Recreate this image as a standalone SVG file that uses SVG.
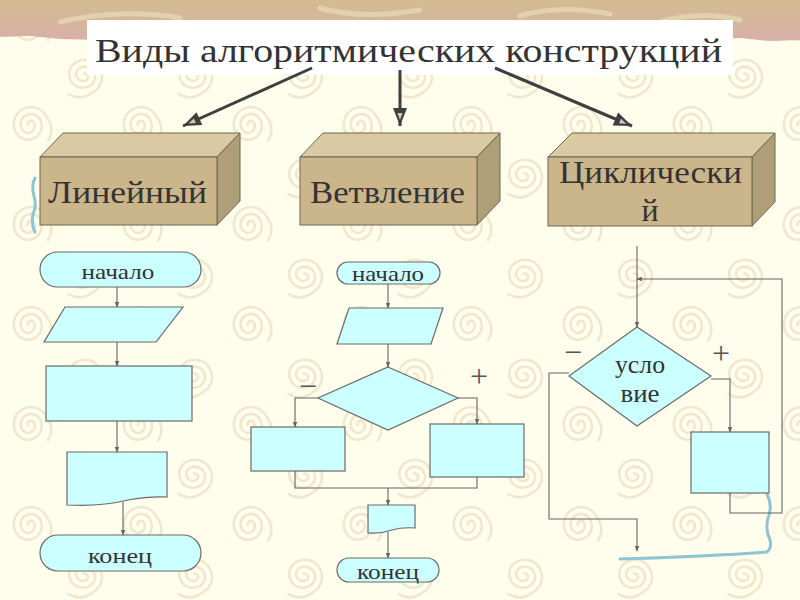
<svg xmlns="http://www.w3.org/2000/svg" width="800" height="600" viewBox="0 0 800 600">
<defs>
  <pattern id="swirls" x="0" y="0" width="110" height="100" patternUnits="userSpaceOnUse">
    <path d="M0 0A3 3 0 0 1 6 0A6 6 0 0 1 -6 0A9 9 0 0 1 12 0A12 12 0 0 1 -12 0A15 15 0 0 1 18 0Q20 14 8 20" transform="translate(28,26) rotate(-30) scale(1.15)" fill="none" stroke="#F0E7CF" stroke-width="2.2"/>
    <path d="M0 0A3 3 0 0 1 6 0A6 6 0 0 1 -6 0A9 9 0 0 1 12 0A12 12 0 0 1 -12 0A15 15 0 0 1 18 0Q20 14 8 20" transform="translate(83,74) rotate(60) scale(1.15)" fill="none" stroke="#F0E7CF" stroke-width="2.2"/>
  </pattern>
  <linearGradient id="band" x1="0" y1="0" x2="0" y2="1">
    <stop offset="0" stop-color="#D3BC90"/>
    <stop offset="1" stop-color="#D8AFAA"/>
  </linearGradient>
  <marker id="big" viewBox="0 0 20 16" refX="19" refY="8" markerWidth="20" markerHeight="16" markerUnits="userSpaceOnUse" orient="auto">
    <path d="M1 1L19 8L1 15Z" fill="#3f3f3f"/>
    <path d="M6 5.5L13 8L6 10.5Z" fill="#cfc9b8"/>
  </marker>
  <marker id="sm" viewBox="0 0 8 8" refX="7" refY="4" markerWidth="6" markerHeight="6" markerUnits="userSpaceOnUse" orient="auto">
    <path d="M0 1L8 4L0 7Z" fill="#666"/>
  </marker>
  <style>
    .title{font-family:"Liberation Serif","Times New Roman",serif;fill:#333;}
    .box-front{fill:#CBB68C;stroke:#6e6650;stroke-width:1;}
    .box-top{fill:#DACAA3;stroke:#6e6650;stroke-width:1;}
    .box-side{fill:#AE9F78;stroke:#6e6650;stroke-width:1;}
    .fc{fill:#CCFFFF;stroke:#6a6a6a;stroke-width:1.2;}
    .ln{fill:none;stroke:#666;stroke-width:1.1;}
    .arr{fill:none;stroke:#3f3f3f;stroke-width:3;}
    .lbl{font-family:"Liberation Serif","Times New Roman",serif;fill:#333;}
    .sign{font-family:"Liberation Serif","Times New Roman",serif;fill:#555;font-size:32px;text-anchor:middle;}
    .sq{fill:none;stroke:#8FC3D6;stroke-width:3;stroke-linecap:round;stroke-linejoin:round;}
  </style>
</defs>

<!-- background -->
<rect x="0" y="0" width="800" height="600" fill="#FFFDEB"/>
<rect x="0" y="0" width="800" height="600" fill="url(#swirls)"/>
<path d="M0 0H800V40L770 41L740 38L700 40L650 37L600 40L550 38L500 41L450 38L400 40L350 37L300 40L250 38L200 40L150 37L100 40L60 39L30 36L0 37Z" fill="url(#band)"/>
<path d="M60 22Q120 8 180 18M320 8Q360 20 420 10M520 16Q560 4 610 14M660 22Q700 10 740 20" fill="none" stroke="#E2D2AC" stroke-width="5" stroke-linecap="round"/>

<!-- title -->
<g id="title">
  <rect x="87" y="20" width="646" height="55" fill="#FFFFFF"/>
  <text class="title" x="95" y="62" font-size="34" textLength="627" lengthAdjust="spacingAndGlyphs">Виды алгоритмических конструкций</text>
</g>

<!-- main arrows -->
<g id="connectors-top">
  <line class="arr" x1="312" y1="68" x2="183" y2="126" marker-end="url(#big)"/>
  <line class="arr" x1="400" y1="70" x2="400" y2="126" marker-end="url(#big)"/>
  <line class="arr" x1="495" y1="68" x2="632" y2="126" marker-end="url(#big)"/>
</g>

<!-- 3D boxes -->
<g id="box-linear">
  <polygon class="box-top" points="40,157 63,133 240,133 217,157"/>
  <polygon class="box-side" points="217,157 240,133 240,201 217,225"/>
  <rect class="box-front" x="40" y="157" width="177" height="68"/>
  <text class="title" x="48" y="203" font-size="32" textLength="159" lengthAdjust="spacingAndGlyphs">Линейный</text>
</g>
<g id="box-branch">
  <polygon class="box-top" points="300,157 323,133 500,133 477,157"/>
  <polygon class="box-side" points="477,157 500,133 500,201 477,225"/>
  <rect class="box-front" x="300" y="157" width="177" height="68"/>
  <text class="title" x="310" y="203" font-size="32" textLength="155" lengthAdjust="spacingAndGlyphs">Ветвление</text>
</g>
<g id="box-cycle">
  <polygon class="box-top" points="548,157 572,133 775,133 752,157"/>
  <polygon class="box-side" points="752,157 775,133 775,202 752,226"/>
  <rect class="box-front" x="548" y="157" width="204" height="69"/>
  <text class="title" x="559" y="183" font-size="32" textLength="183" lengthAdjust="spacingAndGlyphs">Циклически</text>
  <text class="title" x="650" y="221" font-size="32" text-anchor="middle">й</text>
</g>

<!-- blue squiggles -->
<path class="sq" d="M35 178Q31 186 34 196Q37 206 33 214Q31 224 35 232"/>
<path class="sq" d="M767 494Q773 506 768 518Q765 530 770 540Q772 548 767 552Q740 554 700 556Q660 558 620 559"/>

<!-- left flowchart -->
<g id="lin-start">
  <rect class="fc" x="40" y="252" width="161" height="35" rx="17.5"/>
  <text class="lbl" x="118" y="279" font-size="22" text-anchor="middle" textLength="73" lengthAdjust="spacingAndGlyphs">начало</text>
</g>
<g id="lin-io"><polygon class="fc" points="65,307 183,307 156,342 44,342"/></g>
<g id="lin-proc"><rect class="fc" x="46" y="366" width="146" height="55"/></g>
<g id="lin-doc"><path class="fc" d="M67 452H167V497Q150 496 128 500Q100 507 67 505Z"/></g>
<g id="lin-end">
  <rect class="fc" x="40" y="535" width="161" height="36" rx="18"/>
  <text class="lbl" x="120" y="563" font-size="22" text-anchor="middle" textLength="64" lengthAdjust="spacingAndGlyphs">конец</text>
</g>

<!-- middle flowchart -->
<g id="br-start">
  <rect class="fc" x="337" y="262" width="103" height="22" rx="11"/>
  <text class="lbl" x="388" y="281" font-size="21" text-anchor="middle" textLength="72" lengthAdjust="spacingAndGlyphs">начало</text>
</g>
<g id="br-io"><polygon class="fc" points="349,308 443,308 431,344 337,344"/></g>
<g id="br-cond"><polygon class="fc" points="388,367 458,398 388,430 318,398"/></g>
<g id="br-no"><rect class="fc" x="251" y="427" width="94" height="44"/></g>
<g id="br-yes"><rect class="fc" x="430" y="424" width="94" height="53"/></g>
<g id="br-doc"><path class="fc" d="M368 505H415V528Q402 527 392 530Q380 534 368 533Z"/></g>
<g id="br-end">
  <rect class="fc" x="337" y="558" width="102" height="24" rx="12"/>
  <text class="lbl" x="388" y="579" font-size="22" text-anchor="middle" textLength="62" lengthAdjust="spacingAndGlyphs">конец</text>
</g>
<text class="sign" x="308" y="397">−</text>
<text class="sign" x="479" y="387">+</text>

<!-- right flowchart -->
<g id="cy-cond">
  <polygon class="fc" points="637,327 711,376 637,426 569,376"/>
  <text class="lbl" x="640" y="373" font-size="25" text-anchor="middle" textLength="50" lengthAdjust="spacingAndGlyphs">усло</text>
  <text class="lbl" x="640" y="402" font-size="25" text-anchor="middle" textLength="39" lengthAdjust="spacingAndGlyphs">вие</text>
</g>
<g id="cy-body"><rect class="fc" x="691" y="432" width="78" height="61"/></g>
<text class="sign" x="573" y="363" font-size="28">−</text>
<text class="sign" x="721" y="364" font-size="28">+</text>

<!-- flowchart connectors -->
<g id="connectors">
  <line class="ln" x1="117" y1="287" x2="117" y2="307" marker-end="url(#sm)"/>
  <line class="ln" x1="117" y1="342" x2="117" y2="366" marker-end="url(#sm)"/>
  <line class="ln" x1="117" y1="421" x2="117" y2="452" marker-end="url(#sm)"/>
  <line class="ln" x1="123" y1="502" x2="123" y2="535" marker-end="url(#sm)"/>

  <line class="ln" x1="388" y1="284" x2="388" y2="308" marker-end="url(#sm)"/>
  <line class="ln" x1="388" y1="344" x2="388" y2="367" marker-end="url(#sm)"/>
  <polyline class="ln" points="318,398 295,398 295,427" marker-end="url(#sm)"/>
  <polyline class="ln" points="458,398 477,398 477,424" marker-end="url(#sm)"/>
  <polyline class="ln" points="295,471 295,488 477,488 477,477"/>
  <line class="ln" x1="388" y1="488" x2="388" y2="505" marker-end="url(#sm)"/>
  <line class="ln" x1="388" y1="532" x2="388" y2="558" marker-end="url(#sm)"/>

  <line class="ln" x1="637" y1="246" x2="637" y2="327" marker-end="url(#sm)"/>
  <polyline class="ln" points="730,493 730,513 782,513 782,279 637,279" marker-end="url(#sm)"/>
  <polyline class="ln" points="711,379 730,379 730,432" marker-end="url(#sm)"/>
  <polyline class="ln" points="569,373 549,373 549,519 637,519 637,551" marker-end="url(#sm)"/>
</g>
</svg>
